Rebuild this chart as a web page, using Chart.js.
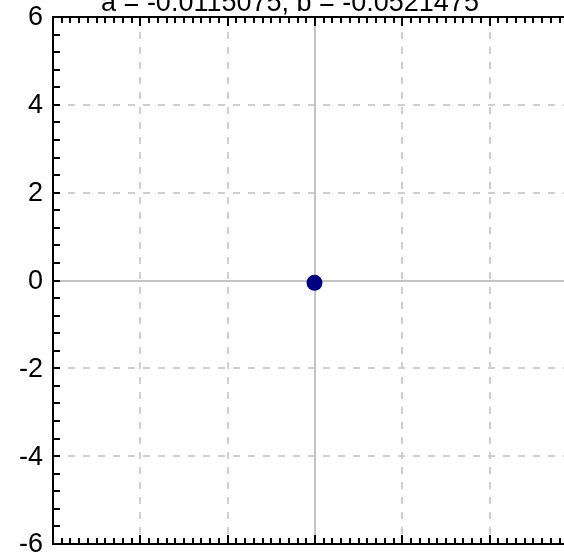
<!DOCTYPE html>
<html>
<head>
<meta charset="utf-8">
<script src="https://cdn.jsdelivr.net/npm/chart.js@4"></script>
<style>
  html, body { margin: 0; padding: 0; background: #fff; overflow: hidden; }
  #wrap { position: absolute; left: 0; top: 0; width: 620px; height: 552px; }
</style>
</head>
<body>
<div id="wrap"><canvas id="c" width="620" height="552"></canvas></div>
<script>
// data
const titleText = 'a = -0.0115075, b = -0.0521475';
const pointX = [-0.0115075];
const pointY = [-0.0521475];
const xMajorTicks = [-6, -4, -2, 0, 2, 4, 6];
const yMajorTicks = [-6, -4, -2, 0, 2, 4, 6];

const FONT = '27px "Liberation Sans", Arial, sans-serif';

// grid, frame, ticks und labels selbst zeichnen (ticks zeigen nach innen)
const framePlugin = {
    id: 'frame',
    beforeDatasetsDraw(chart) {
        const ctx = chart.ctx;
        const a = chart.chartArea;
        const xs = chart.scales.x, ys = chart.scales.y;
        ctx.save();
        // gestrichelte Gitterlinien
        ctx.strokeStyle = '#cfcfcf';
        ctx.lineWidth = 2;
        ctx.setLineDash([7, 8]);
        xMajorTicks.forEach(v => {
            if (v === 0) return;
            const px = Math.round(xs.getPixelForValue(v));
            ctx.beginPath(); ctx.moveTo(px, a.top); ctx.lineTo(px, a.bottom); ctx.stroke();
        });
        yMajorTicks.forEach(v => {
            if (v === 0) return;
            const py = Math.round(ys.getPixelForValue(v));
            ctx.beginPath(); ctx.moveTo(a.left, py); ctx.lineTo(a.right, py); ctx.stroke();
        });
        // Nulllinien
        ctx.setLineDash([]);
        ctx.strokeStyle = '#c4c4c4';
        const x0 = Math.round(xs.getPixelForValue(0));
        const y0 = Math.round(ys.getPixelForValue(0));
        ctx.beginPath(); ctx.moveTo(x0, a.top); ctx.lineTo(x0, a.bottom); ctx.stroke();
        ctx.beginPath(); ctx.moveTo(a.left, y0); ctx.lineTo(a.right, y0); ctx.stroke();

        // Rahmen
        ctx.strokeStyle = '#000';
        ctx.lineWidth = 2;
        ctx.beginPath();
        ctx.moveTo(a.right, a.top); ctx.lineTo(a.left, a.top);
        ctx.lineTo(a.left, a.bottom); ctx.lineTo(a.right, a.bottom);
        ctx.stroke();

        // x ticks (oben und unten), alle 0.2
        for (let i = 0; i <= 60; i++) {
            const v = -6 + i * 0.2;
            const len = i % 10 === 0 ? 9 : 6;
            const px = Math.round(xs.getPixelForValue(v));
            ctx.beginPath(); ctx.moveTo(px, a.top); ctx.lineTo(px, a.top + len); ctx.stroke();
            ctx.beginPath(); ctx.moveTo(px, a.bottom); ctx.lineTo(px, a.bottom - len); ctx.stroke();
        }
        // y ticks links, alle 0.4
        for (let i = 0; i <= 30; i++) {
            const v = -6 + i * 0.4;
            const py = Math.round(ys.getPixelForValue(v));
            ctx.beginPath(); ctx.moveTo(a.left, py); ctx.lineTo(a.left + 7, py); ctx.stroke();
        }

        // y labels
        ctx.font = FONT;
        ctx.fillStyle = '#000';
        ctx.textAlign = 'right';
        ctx.textBaseline = 'middle';
        ys.ticks.forEach(t => {
            ctx.fillText(String(t.value), a.left - 10, ys.getPixelForValue(t.value) + 1);
        });
        ctx.restore();
    },
    afterDraw(chart) {
        const ctx = chart.ctx;
        ctx.save();
        ctx.font = FONT;
        ctx.fillStyle = '#000';
        ctx.textAlign = 'center';
        ctx.textBaseline = 'alphabetic';
        ctx.fillText(titleText, 290, 11);
        ctx.restore();
    }
};

new Chart(document.getElementById('c'), {
    type: 'scatter',
    data: {
        datasets: [{
            data: pointX.map((x, i) => ({ x: x, y: pointY[i] })),
            backgroundColor: '#000080',
            borderWidth: 0,
            pointRadius: 8
        }]
    },
    options: {
        responsive: false,
        animation: false,
        layout: { padding: { top: 17, left: 53, right: 43, bottom: 7 } },
        plugins: { legend: { display: false }, tooltip: { enabled: false }, title: { display: false } },
        scales: {
            x: {
                type: 'linear', min: -6, max: 6,
                display: false
            },
            y: {
                type: 'linear', min: -6, max: 6,
                display: false,
                afterBuildTicks(s) { s.ticks = yMajorTicks.map(v => ({ value: v })); }
            }
        }
    },
    plugins: [framePlugin]
});
</script>
</body>
</html>
